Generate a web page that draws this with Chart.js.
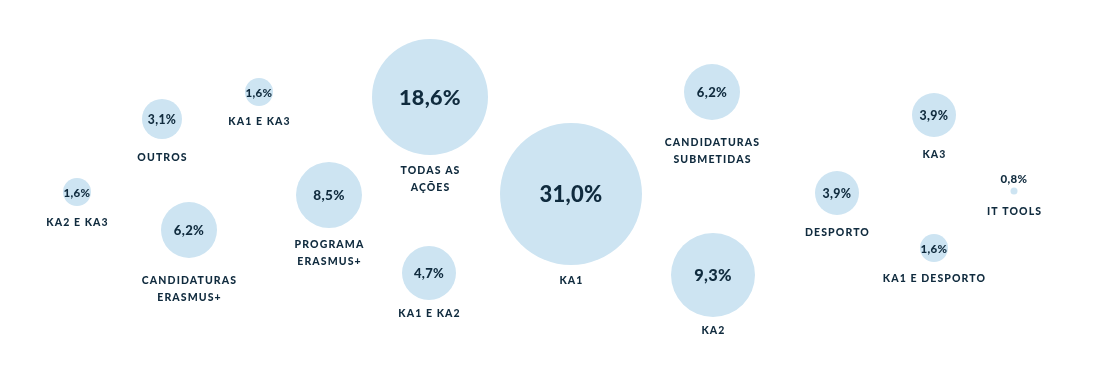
<!DOCTYPE html>
<html>
<head>
<meta charset="utf-8">
<script src="https://cdn.jsdelivr.net/npm/chart.js@4/dist/chart.umd.min.js"></script>
<style>
  html, body { margin: 0; padding: 0; background: #ffffff; }
  #wrap { width: 1100px; height: 380px; }
</style>
</head>
<body>
<div id="wrap"><canvas id="bubbleChart" width="1100" height="380"></canvas></div>
<script>
// categories (each entry = lines of the caption under a bubble)
const categories = [
    ['KA2 E KA3'],
    ['OUTROS'],
    ['KA1 E KA3'],
    ['CANDIDATURAS', 'ERASMUS+'],
    ['PROGRAMA', 'ERASMUS+'],
    ['TODAS AS', 'AÇÕES'],
    ['KA1 E KA2'],
    ['KA1'],
    ['CANDIDATURAS', 'SUBMETIDAS'],
    ['KA2'],
    ['DESPORTO'],
    ['KA3'],
    ['IT TOOLS'],
    ['KA1 E DESPORTO']
];

// share of each category (%)
const shares = [1.6, 3.1, 1.6, 6.2, 8.5, 18.6, 4.7, 31.0, 6.2, 9.3, 3.9, 3.9, 0.8, 1.6];

// bubble layout
const posX = [77, 162, 259, 189, 329, 430, 429, 571, 712, 713, 837, 934, 1014, 934];
const posY = [192, 119, 92, 230, 195, 97, 273, 194, 92, 275, 193, 115, 191, 248];
const sizes = [14, 20, 14, 28, 33, 58, 27, 71, 28, 42, 22, 22, 3.5, 14];
// gap between bubble edge and its caption
const captionGap = [17, 19, 16, 23, 17, 16, 14, 16, 23, 14, 18, 18, 17, 17];

const W = 1100, H = 380;
const textColor = '#102b3e';
const bubbleColor = '#cde4f2';
const fontFamily = 'Lato, "Open Sans", sans-serif';

const points = shares.map((v, i) => ({ x: posX[i], y: posY[i], r: sizes[i] }));

// bubble charts pad the chart area by the largest radius; widen the scales to cancel it
const pad = Math.max(...sizes);

function valueFontSize(r) {
    if (r < 35) return 10 + r * 0.11;
    return Math.min(22, r * 0.32 + 3);
}

const bubbleLabels = {
    id: 'bubbleLabels',
    afterDatasetsDraw(chart) {
        const ctx = chart.ctx;
        const meta = chart.getDatasetMeta(0);
        ctx.save();
        ctx.fillStyle = textColor;
        ctx.textAlign = 'center';
        ctx.textBaseline = 'middle';
        meta.data.forEach((el, i) => {
            const r = el.options.radius;
            const val = shares[i].toFixed(1).replace('.', ',') + '%';
            // value
            ctx.letterSpacing = '0.3px';
            if (r < 8) {
                ctx.font = '900 11.5px ' + fontFamily;
                ctx.fillText(val, el.x, el.y - 12);
            } else {
                ctx.font = '900 ' + valueFontSize(r).toFixed(1) + 'px ' + fontFamily;
                ctx.fillText(val, el.x, el.y + 1);
            }
            // caption
            ctx.font = '900 10.5px ' + fontFamily;
            ctx.letterSpacing = '1.1px';
            categories[i].forEach((line, j) => {
                ctx.fillText(line, el.x + 0.5, el.y + r + captionGap[i] + j * 16.5);
            });
        });
        ctx.restore();
    }
};

new Chart(document.getElementById('bubbleChart'), {
    type: 'bubble',
    data: {
        datasets: [{
            label: 'Share',
            data: points,
            backgroundColor: bubbleColor,
            borderWidth: 0,
            hoverRadius: 0,
            clip: false
        }]
    },
    options: {
        responsive: false,
        animation: false,
        events: [],
        layout: { padding: 0 },
        plugins: {
            legend: { display: false },
            tooltip: { enabled: false }
        },
        scales: {
            x: { type: 'linear', min: pad, max: W - pad, display: false },
            y: { type: 'linear', min: pad, max: H - pad, reverse: true, display: false }
        }
    },
    plugins: [bubbleLabels]
});
</script>
</body>
</html>
